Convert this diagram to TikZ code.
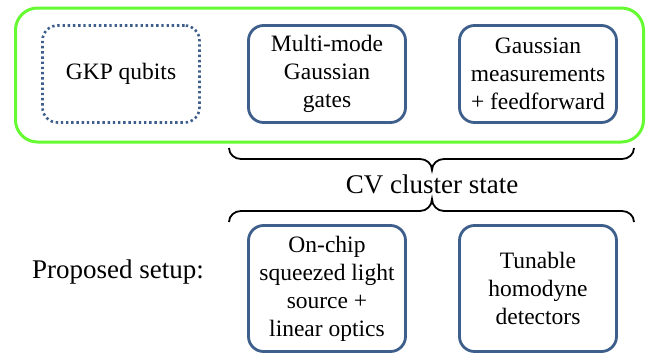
\documentclass[tikz,border=0pt]{standalone}
\usepackage{fontspec}
\setmainfont{Liberation Serif}[Ligatures={NoCommon}]
\newfontfamily\tms{Liberation Serif}[Ligatures={NoCommon}]
\definecolor{boxblue}{RGB}{62,95,140}
\definecolor{brightgreen}{RGB}{102,250,51}
\tikzset{
  blockbox/.style={draw=boxblue, line width=2.8pt, rounded corners=15pt,
    minimum width=157pt, align=center, inner sep=0pt},
  dotbox/.style={blockbox, line width=2.6pt, dash pattern=on 2.4pt off 2.8pt},
  bracepath/.style={draw=black, line width=1.8pt},
  boxfont/.style={font=\tms\fontsize{23.5}{28}\selectfont},
  bigfont/.style={font=\tms\fontsize{27}{32}\selectfont, inner sep=0pt},
}
\begin{document}
\begin{tikzpicture}[x=1pt,y=-1pt]
\useasboundingbox (0,0) rectangle (646,354);
% green frame
\node[draw=brightgreen, line width=3pt, rounded corners=22pt,
      minimum width=628pt, minimum height=134pt, inner sep=0pt] (frame) at (329.5,75) {};
% top row
\node[dotbox, minimum height=97pt, boxfont] (gkp) at (121,74) {GKP qubits};
\node[blockbox, minimum height=97pt, boxfont] (gates) at (327,74) {Multi-mode\\Gaussian\\gates};
\node[blockbox, minimum height=97pt, boxfont] (meas) at (538,74) {Gaussian\\measurements\\+ feedforward};
% CV cluster state
\node[bigfont] (cv) at (432,184) {CV cluster state};
% top brace (tip down)
\coordinate (tbL) at (229,148);
\coordinate (tbR) at (634,148);
\coordinate (tbT) at (432,170);
\draw[bracepath] (tbL) to[out=-90,in=180] (241,159) -- (420,159)
  to[out=0,in=90] (tbT) to[out=90,in=180] (444,159) -- (622,159)
  to[out=0,in=-90] (tbR);
% bottom brace (tip up)
\coordinate (bbL) at (229,222);
\coordinate (bbR) at (634,222);
\coordinate (bbT) at (432,199);
\draw[bracepath] (bbL) to[out=90,in=180] (241,211) -- (420,211)
  to[out=0,in=-90] (bbT) to[out=-90,in=180] (444,211) -- (622,211)
  to[out=0,in=90] (bbR);
% bottom row
\node[bigfont] (setup) at (118,272) {Proposed setup:};
\node[blockbox, minimum height=126pt, boxfont] (chip) at (327,288.5) {On-chip\\squeezed light\\source +\\linear optics};
\node[blockbox, minimum height=126pt, boxfont] (homo) at (538,288.5) {Tunable\\homodyne\\detectors};
\end{tikzpicture}
\end{document}
